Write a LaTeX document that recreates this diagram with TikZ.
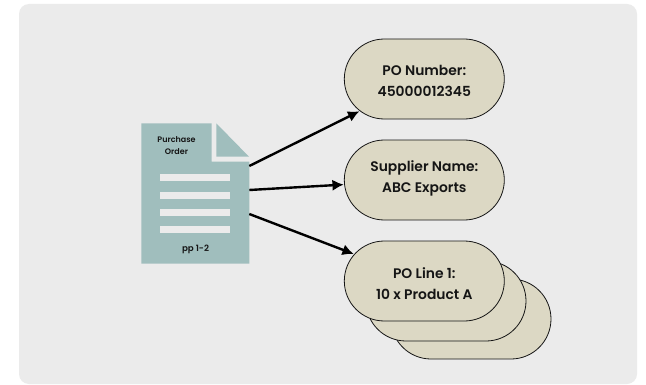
\documentclass[tikz,border=0pt]{standalone}
\usepackage{fontspec}
\setmainfont{Poppins SemiBold}
\usetikzlibrary{shapes.misc,arrows.meta}
\definecolor{panelc}{HTML}{EBEBEB}
\definecolor{docc}{HTML}{A0BEBD}
\definecolor{pillc}{HTML}{DCD8C4}
\definecolor{inkc}{HTML}{151515}
\newcommand{\padtop}[1]{\rule{0pt}{#1}}
\newcommand{\padbot}[1]{\rule[-#1]{0pt}{#1}}
\tikzset{
  pill/.style={draw=inkc,line width=0.6pt,fill=pillc,rounded rectangle,rounded rectangle arc length=180,
    minimum width=120pt,minimum height=60pt,inner sep=0pt,align=center,text=inkc,
    font=\fontsize{10.4}{15.8}\selectfont},
  doclabel/.style={text=inkc,align=center,inner sep=0pt,font=\fontsize{6}{8.5}\selectfont},
  docline/.style={fill=panelc,draw=none},
  conn/.style={line width=1.8pt,draw=black,-{Latex[length=8.5pt,width=8.5pt]},shorten >=0.3pt},
}
\begin{document}
\begin{tikzpicture}[x=0.75pt,y=-0.75pt]
\useasboundingbox (0,0) rectangle (646,385);
\fill[white] (0,0) rectangle (646,385);
\fill[panelc,rounded corners=7.5pt] (19,4) rectangle (637,384);
% document
\fill[docc] (141.3,123.3) -- (211.7,123.3) -- (211.7,161.7) -- (249.3,161.7) -- (249.3,263.7) -- (141.3,263.7) -- cycle;
\fill[docc] (216.3,123.3) -- (216.3,156.7) -- (249,156.7) -- cycle;
\fill[docline] (160.3,174.3) rectangle (230.3,181.3);
\fill[docline] (160.3,191.7) rectangle (230.3,198.7);
\fill[docline] (160.3,209) rectangle (230.3,216);
\fill[docline] (160.3,226.3) rectangle (230.3,233.3);
\node[doclabel] (title) at (176.5,145.5) {Purchase\\Order};
\node[doclabel,font=\fontsize{6.5}{8.5}\selectfont] (pages) at (195.5,249) {pp 1-2};
\coordinate (d1) at (249.3,166);
\coordinate (d2) at (249.3,190);
\coordinate (d3) at (249.3,214);
% pills
\node[pill] (back) at (471,319) {};
\node[pill] (mid) at (446,301) {};
\node[pill] (line) at (424.3,281) {\padtop{12.5pt}PO Line 1:\\10 x Product A};
\node[pill] (sup) at (424.3,180) {Supplier Name:\\ABC Exports\padbot{4.7pt}};
\node[pill] (num) at (424.3,79) {\padtop{11pt}PO Number:\\45000012345};
\draw[conn] (d1) -- (num);
\draw[conn] (d2) -- (sup);
\draw[conn] (d3) -- (line);
\end{tikzpicture}
\end{document}
